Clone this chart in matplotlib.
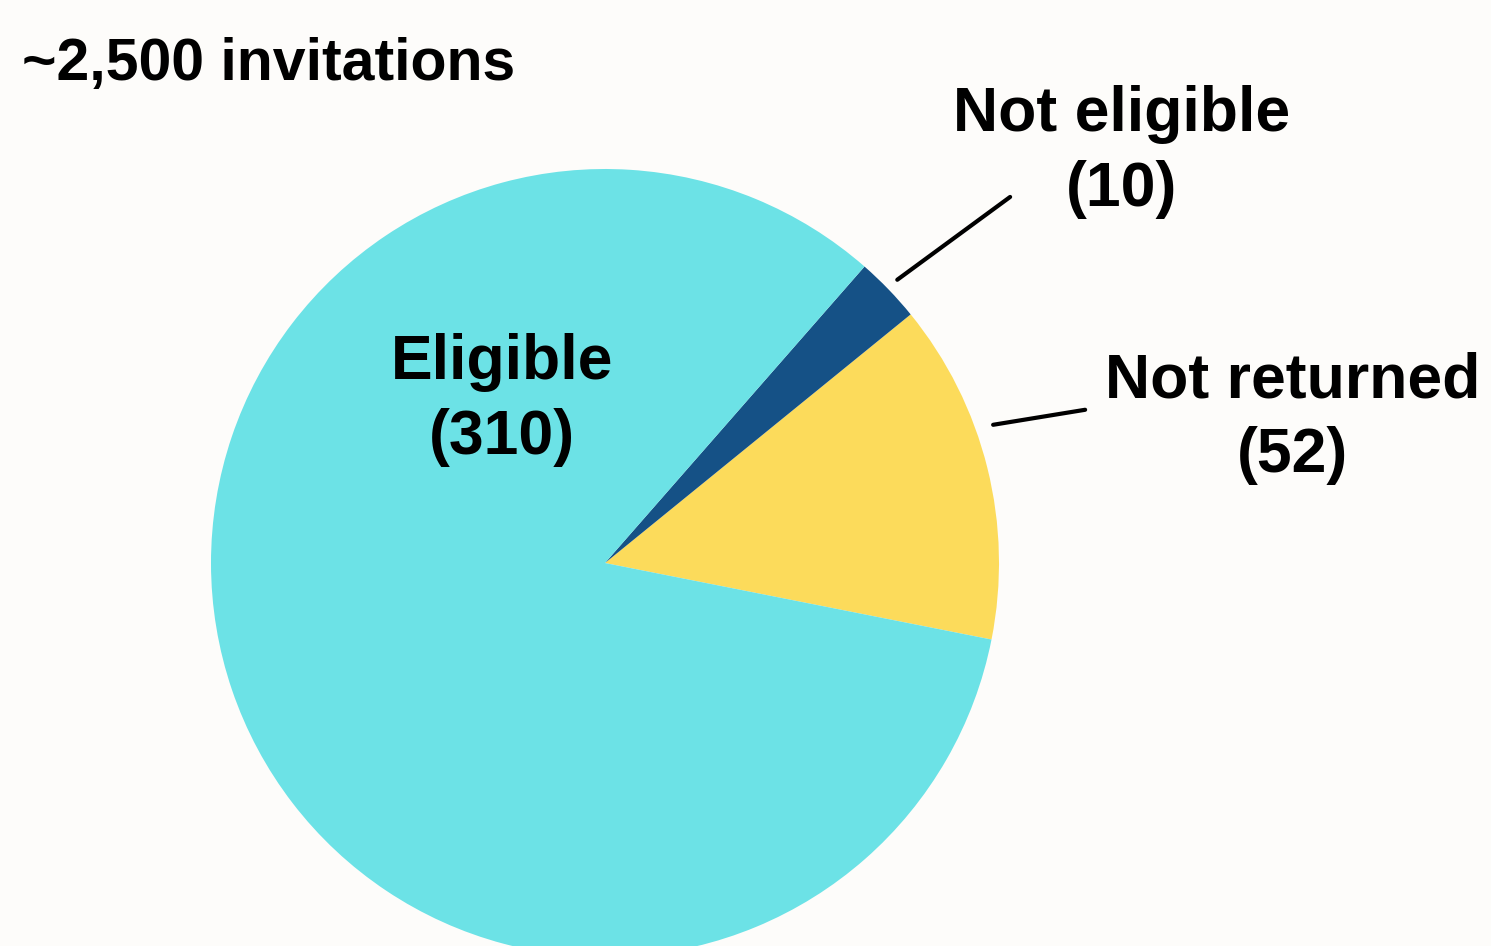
import numpy as np
import matplotlib.pyplot as plt

# data
labels = ["Not returned", "Not eligible", "Eligible"]
counts = [52, 10, 310]
colors = ["#FCDB5B", "#155186", "#6CE2E6"]
title_text = "~2,500 invitations"

plt.rcParams['font.family'] = ['Liberation Sans', 'DejaVu Sans']

fig = plt.figure(figsize=(14.91, 9.46), dpi=100)
bg = "#FDFCFA"
fig.patch.set_facecolor(bg)
ax = fig.add_axes([0, 0, 1, 1])
ax.set_facecolor(bg)

cx, cy, R = 605, 383, 394
wedges, _ = ax.pie(counts, colors=colors, startangle=-11.2, counterclock=True,
                   center=(cx, cy), radius=R, frame=True,
                   wedgeprops=dict(linewidth=0))
ax.set_xlim(0, 1491)
ax.set_ylim(0, 946)
ax.set_aspect('equal')
ax.axis('off')

def polar(ang, r):
    a = np.deg2rad(ang)
    return cx + r * np.cos(a), cy + r * np.sin(a)

# labels
ls = 1.34
ax.text(502, 946 - 400, "Eligible\n(310)", ha='center', va='center',
        fontsize=45, fontweight='bold', linespacing=ls)
ax.text(1122, 946 - 152, "Not eligible\n(10)", ha='center', va='center',
        fontsize=45, fontweight='bold', linespacing=ls)
ax.text(1293, 946 - 418, "Not returned\n(52)", ha='center', va='center',
        fontsize=45, fontweight='bold', linespacing=ls)
ax.text(22, 946 - 80, title_text, ha='left', va='baseline',
        fontsize=42.5, fontweight='bold')

# leader lines
ax.annotate("", xy=polar(44.1, 407), xytext=polar(42.1, 546),
            arrowprops=dict(arrowstyle='-', lw=3, color='black',
                            shrinkA=0, shrinkB=0))
ax.annotate("", xy=polar(19.6, 412), xytext=polar(17.7, 504),
            arrowprops=dict(arrowstyle='-', lw=3, color='black',
                            shrinkA=0, shrinkB=0))

plt.savefig("out.png", dpi=100, facecolor=bg)
